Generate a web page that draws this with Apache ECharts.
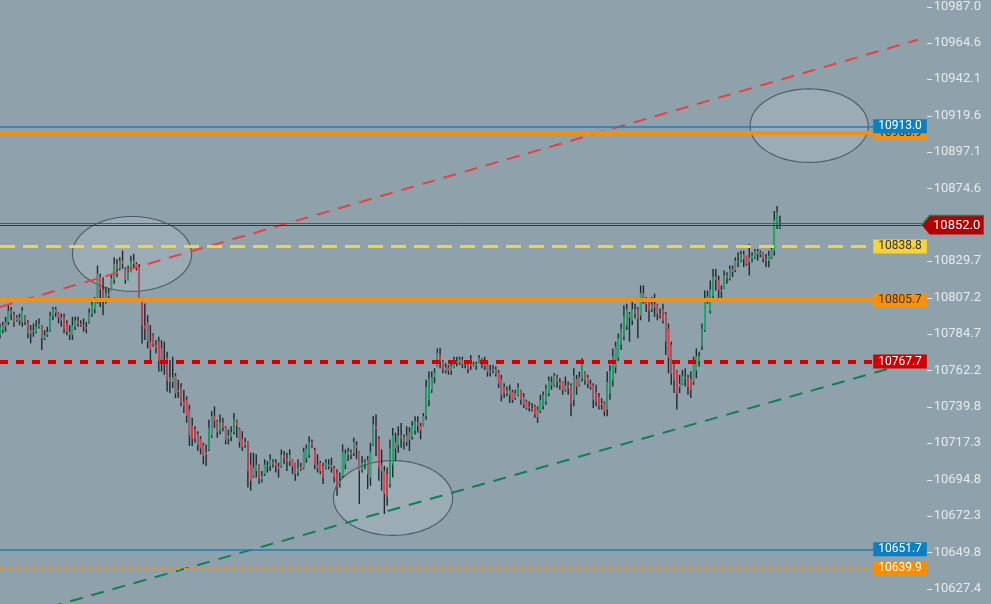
<!DOCTYPE html>
<html>
<head>
<meta charset="utf-8">
<script src="https://cdn.jsdelivr.net/npm/echarts@6/dist/echarts.min.js"></script>
<style>html,body{margin:0;padding:0;background:#8fa1aa;}#c{width:991px;height:604px;}</style>
</head>
<body>
<div id="c"></div>
<script>
// ---- DATA ----
// candles: [open, close, low, high]
const candles = [
[10784,10789,10782.0,10791.2],[10787,10790,10785.1,10792.2],[10792,10789,10786.1,10795.3],[10792,10799,10790.2,10802.5],
[10799,10797,10793.2,10801.4],[10797,10792,10789.2,10798.4],[10793,10795,10792.2,10796.3],[10795,10793,10790.2,10797.3],
[10792,10799,10789.2,10801.4],[10796,10792,10790.2,10796.3],[10792,10785,10782.0,10793.2],[10785,10787,10778.9,10790.2],
[10787,10786,10783.0,10791.2],[10786,10789,10785.1,10793.2],[10789,10791,10788.1,10794.3],[10790,10782,10774.8,10790.2],
[10782,10784,10781.0,10787.1],[10784,10786,10783.0,10789.2],[10787,10796,10786.1,10798.4],[10796,10800,10793.2,10801.4],
[10800,10798,10795.3,10801.4],[10798,10795,10791.2,10798.4],[10795,10793,10789.2,10797.3],[10795,10788,10785.1,10797.3],
[10791,10786,10784.0,10793.2],[10786,10784,10781.0,10790.2],[10784,10790,10781.0,10795.3],[10789,10793,10787.1,10795.3],
[10793,10791,10789.2,10795.3],[10791,10790,10789.2,10793.2],[10790,10789,10786.1,10794.3],[10789,10788,10785.1,10792.2],
[10792,10798,10791.2,10800.4],[10797,10803,10795.3,10805.5],[10800,10806,10797.3,10807.6],[10806,10822,10803.5,10827.0],
[10820,10812,10801.4,10821.9],[10812,10806,10796.3,10819.8],[10806,10810,10803.5,10813.7],[10810,10808,10804.5,10812.7],
[10812,10819,10811.7,10821.9],[10818,10828,10815.7,10832.1],[10828,10825,10819.8,10831.1],[10825,10830,10823.9,10832.1],
[10830,10828,10825.0,10836.2],[10825,10818,10815.7,10826.0],[10818,10823,10817.8,10827.0],[10823,10830,10822.9,10833.1],
[10830,10828,10825.0,10834.2],[10828,10826,10823.9,10829.0],[10826,10806,10804.5,10828.0],[10806,10790,10778.9,10806.5],
[10790,10788,10781.0,10803.5],[10792,10780,10775.8,10796.3],[10780,10775,10767.6,10790.2],[10784,10778,10776.9,10785.1],
[10778,10776,10772.8,10781.0],[10780,10768,10761.5,10783.0],[10776,10766,10761.5,10780.9],[10768,10766,10759.5,10779.9],
[10770,10756,10749.2,10773.8],[10758,10755,10748.2,10768.7],[10755,10758,10751.3,10770.7],[10759,10748,10745.1,10760.5],
[10749,10750,10745.1,10756.4],[10752,10742,10740.0,10754.3],[10743,10740,10735.9,10750.3],[10744,10734,10729.8,10746.2],
[10738,10722,10715.5,10741.0],[10728,10720,10715.5,10732.9],[10726,10720,10717.5,10727.7],[10723,10716,10712.4,10724.7],
[10720,10714,10710.4,10721.6],[10716,10709,10704.2,10717.5],[10712,10710,10703.2,10716.5],[10713,10727,10712.4,10731.8],
[10722,10734,10720.6,10737.0],[10734,10731,10726.7,10740.0],[10731,10724,10720.6,10731.8],[10725,10730,10722.6,10734.9],
[10730,10727,10724.7,10732.9],[10727,10719,10716.5,10727.7],[10720,10722,10716.5,10725.7],[10721,10724,10718.5,10727.7],
[10724,10732,10722.6,10735.9],[10731,10728,10720.6,10731.8],[10726,10718,10714.5,10726.7],[10720,10715,10712.4,10724.7],
[10716,10718,10714.5,10720.6],[10718,10700,10689.9,10718.5],[10704,10694,10687.9,10711.4],[10697,10702,10696.0,10711.4],
[10700,10704,10696.0,10710.4],[10704,10695,10692.0,10704.2],[10695,10697,10693.0,10700.1],[10698,10704,10697.0,10707.3],
[10703,10703.5,10699.1,10706.3],[10703,10707,10700.1,10710.4],[10706,10704,10702.2,10707.3],[10705,10703,10699.1,10707.3],
[10703,10701,10696.0,10705.2],[10703,10710,10702.2,10713.4],[10710,10708,10704.2,10712.4],[10708,10706,10700.1,10711.4],
[10706,10710,10703.2,10713.4],[10707,10703,10698.1,10707.3],[10705,10698,10694.0,10705.2],[10699,10702,10697.0,10707.3],
[10703,10701,10700.1,10705.2],[10702,10712,10701.2,10714.5],[10708,10714,10705.2,10716.5],[10710,10718,10708.3,10721.6],
[10718,10716,10714.5,10719.6],[10713,10704,10701.1,10714.5],[10704,10702,10699.1,10710.4],[10705,10700,10698.1,10706.3],
[10703,10696,10692.0,10705.2],[10702,10705,10701.1,10707.3],[10703,10704,10701.1,10707.3],[10704,10702,10699.1,10708.3],
[10702,10696,10693.0,10703.2],[10699,10690,10684.8,10701.1],[10692,10694,10689.9,10699.1],[10697,10712,10696.0,10716.5],
[10704,10711,10701.1,10713.4],[10710,10712,10706.3,10714.5],[10712,10710,10707.3,10713.4],[10711,10718,10709.3,10720.6],
[10716,10714,10707.3,10718.5],[10712,10700,10679.7,10712.4],[10701,10705,10699.1,10709.3],[10704,10706,10701.1,10707.3],
[10707,10698,10688.9,10709.3],[10696,10712,10690.9,10717.5],[10716,10729,10715.5,10733.9],[10728,10726,10709.3,10734.9],
[10720,10702,10694.0,10721.6],[10704,10700,10687.9,10713.4],[10700,10686,10673.5,10703.2],[10698,10684,10678.6,10702.2],
[10692,10714,10689.9,10719.6],[10704,10722,10696.0,10726.7],[10718,10714,10706.3,10723.7],[10716,10722,10711.4,10727.7],
[10722,10720,10714.5,10729.8],[10721,10718,10713.4,10722.6],[10718,10722,10715.5,10727.7],[10724,10719,10712.4,10727.1],
[10721,10728,10719.6,10730.8],[10725,10731,10722.6,10733.9],[10730,10728,10723.7,10733.9],[10728,10725,10719.6,10729.8],
[10728,10734,10727.7,10735.9],[10734,10752,10731.8,10756.4],[10744,10757,10740.0,10761.5],[10750,10758,10748.2,10761.5],
[10758,10761,10754.3,10763.6],[10765,10773,10764.6,10775.8],[10772,10768,10763.6,10776.2],[10768,10763,10760.5,10768.7],
[10762,10764,10760.5,10766.6],[10764,10762,10759.5,10765.6],[10762,10765,10759.5,10768.7],[10764,10769,10763.6,10770.7],
[10768,10767,10764.6,10770.7],[10767,10769,10765.6,10770.7],[10769,10766,10763.6,10770.7],[10766,10767,10763.6,10768.7],
[10766,10763,10760.5,10766.6],[10769,10765,10762.5,10771.7],[10766,10765,10764.6,10767.6],[10765,10766,10762.5,10767.6],
[10767,10770,10766.6,10771.7],[10769,10767,10763.6,10769.7],[10767,10765,10762.5,10770.7],[10766,10761,10758.4,10767.6],
[10761,10762,10758.4,10765.6],[10762,10763,10760.5,10765.6],[10763,10760,10758.4,10764.6],[10761,10754,10751.3,10762.5],
[10757,10747,10743.1,10759.5],[10752,10748,10745.1,10754.3],[10748,10750,10746.2,10752.3],[10750,10747,10742.1,10753.3],
[10749,10744,10742.1,10750.3],[10745,10748,10744.1,10750.3],[10747,10752,10746.2,10754.3],[10750,10744,10741.0,10750.3],
[10746,10741,10739.0,10748.2],[10743,10739,10738.0,10744.1],[10740,10739,10736.9,10743.1],[10739,10738,10736.9,10742.1],
[10740,10735,10732.9,10741.0],[10738,10733,10729.8,10740.0],[10737,10744,10735.9,10747.2],[10740,10747,10738.0,10749.2],
[10743,10751,10741.0,10753.3],[10748,10756,10746.2,10758.4],[10755,10753,10750.3,10758.4],[10753,10759,10752.3,10760.5],
[10758,10755,10751.3,10759.5],[10755,10753,10750.3,10757.4],[10755,10750,10747.2,10755.4],[10750,10753,10749.2,10758.4],
[10753,10751,10747.2,10755.4],[10753,10742,10733.9,10754.3],[10744,10759,10740.0,10763.6],[10757,10752,10747.2,10759.5],
[10753,10758,10752.3,10761.5],[10757,10766,10755.4,10769.7],[10761,10756,10753.3,10761.5],[10758,10754,10751.3,10759.5],
[10754,10752,10750.3,10756.4],[10753,10744,10739.0,10754.3],[10749,10743,10740.0,10753.3],[10746,10740,10738.0,10748.2],
[10741,10742,10738.0,10745.1],[10742,10737,10733.9,10743.1],[10738,10755,10733.9,10761.5],[10748,10762,10744.1,10765.6],
[10756,10771,10752.3,10775.8],[10764,10777,10760.5,10779.9],[10770,10782,10768.0,10785.0],[10778,10788,10774.8,10791.2],
[10783,10796,10780.9,10802.4],[10790,10800,10787.1,10803.4],[10797,10795,10779.9,10798.3],[10793,10800,10790.2,10804.5],
[10800,10797,10794.2,10803.4],[10800,10794,10782.0,10801.4],[10796,10810,10793.2,10814.7],[10810,10806,10803.4,10814.7],
[10805,10803,10798.3,10807.5],[10805,10799,10792.2,10806.5],[10800,10803,10798.3,10807.5],[10803,10801,10795.3,10809.6],
[10803,10797,10793.2,10803.4],[10797,10796,10794.2,10800.4],[10800,10793,10791.2,10803.4],[10797,10780,10771.7,10798.3],
[10788,10770,10760.5,10791.2],[10778,10760,10753.3,10779.9],[10766,10756,10748.2,10768.7],[10762,10748,10738.0,10762.5],
[10752,10754,10748.2,10759.5],[10754,10759,10753.3,10762.5],[10758,10757,10752.3,10763.6],[10758,10752,10747.2,10759.5],
[10757,10750,10745.1,10761.5],[10755,10766,10753.3,10770.7],[10762,10771,10757.4,10775.8],[10768,10771,10764.6,10773.8],
[10777,10788,10774.8,10791.2],[10787,10806,10786.1,10811.6],[10806,10808,10803.4,10811.6],[10799,10812,10797.3,10817.8],
[10808,10820,10806.5,10824.9],[10820,10818,10811.6,10824.9],[10818,10812,10806.5,10820.8],[10811,10812,10806.5,10814.7],
[10813,10821,10812.7,10823.9],[10821,10819,10815.7,10822.9],[10819,10825,10817.8,10827.0],[10825,10823,10819.8,10827.0],
[10824,10830,10822.9,10832.1],[10830,10829,10826.0,10835.2],[10830,10834,10829.0,10836.2],[10834,10831,10826.0,10836.2],
[10833,10828,10827.0,10833.1],[10829,10832,10820.8,10840.3],[10831,10833,10829.0,10835.2],[10832,10836,10831.1,10837.2],
[10836,10834,10830.0,10837.2],[10834,10835,10832.1,10836.2],[10835,10831,10829.0,10835.2],[10831,10830,10826.0,10834.1],
[10830,10833,10826.0,10836.2],[10832,10837,10831.1,10839.3],[10836,10855,10833.1,10860.7],[10852,10860,10849.5,10863.8],
[10850.5,10852,10849.5,10857.7]
];
const tickLabels = ['10987.0','10964.6','10942.1','10919.6','10897.1','10874.6','10852.2','10829.7','10807.2','10784.7','10762.2','10739.8','10717.3','10694.8','10672.3','10649.8','10627.4'];
const levelPrices = [10908.9, 10913.0, 10838.8, 10805.7, 10767.7, 10651.7, 10639.9];
const lastPrice = 10852.0;
const askPrice = 10853.2;
// trend lines: [barIndex, price]
const resistanceLine = [[0, 10801.4], [329.6, 10966.5]];
const supportLine = [[10, 10612.2], [320.6, 10764.0]];
// ellipses: [centerIndex, centerPrice, radiusBars, radiusPrice]
const ellipses = [[47.4, 10834.2, 21.4, 23.1], [290.5, 10913.4, 21.2, 22.7], [141.1, 10683.4, 21.4, 23.1]];

// ---- CHART ----
const chart = echarts.init(document.getElementById('c'), null, {renderer: 'canvas'});
const YMIN = 10617.92, YMAX = 10988.61;
const XMAX = 332.7, LEVEL_END = 313.5, PRICE_END = 330.9;
const tickVals = tickLabels.map(Number);

const levelStyles = [
  {color: '#f5900f', width: 4, type: 'solid', bg: '#f5900f', fg: '#2b2b2b'},
  {color: '#1a7fc6', width: 1.5, type: 'solid', bg: '#0b7fc4', fg: '#ffffff'},
  {color: '#f6d33c', width: 3, type: [15, 8], bg: '#f8d23a', fg: '#333333'},
  {color: '#f5900f', width: 4, type: 'solid', bg: '#f8900c', fg: '#333333'},
  {color: '#d40000', width: 4, type: [8, 8], bg: '#d20000', fg: '#ffffff'},
  {color: '#1a7fc6', width: 1.5, type: 'solid', bg: '#0b7fc4', fg: '#ffffff'},
  {color: '#f5900f', width: 2, type: [4, 4], bg: '#fb8c00', fg: '#ffffff'}
];

const series = [];

// ellipses (under candles)
series.push({
  type: 'custom', z: 1, silent: true, clip: true,
  data: ellipses,
  encode: {x: 0, y: 1},
  renderItem: function (params, api) {
    const c = api.coord([api.value(0), api.value(1)]);
    const s = api.size([api.value(2), api.value(3)]);
    const pts = [];
    for (let k = 0; k < 96; k++) {
      const a = k / 96 * Math.PI * 2;
      pts.push([c[0] + s[0] * Math.cos(a), c[1] + s[1] * Math.sin(a)]);
    }
    return {type: 'polygon', shape: {points: pts},
      style: {fill: 'rgba(255,255,255,0.12)', stroke: '#4c5962', lineWidth: 1.1}};
  }
});

// candles
series.push({
  type: 'custom', z: 2, silent: true, clip: true,
  data: candles.map((d, i) => [i, d[0], d[1], d[2], d[3]]),
  encode: {x: 0, y: [1, 2, 3, 4]},
  renderItem: function (params, api) {
    const i = api.value(0);
    const o = api.coord([i, api.value(1)]);
    const c = api.coord([i, api.value(2)]);
    const l = api.coord([i, api.value(3)]);
    const h = api.coord([i, api.value(4)]);
    const w = 1.4, x = o[0] - w / 2;
    const up = api.value(2) >= api.value(1);
    const top = Math.min(o[1], c[1]);
    const bh = Math.max(1, Math.abs(o[1] - c[1]));
    return {type: 'group', children: [
      {type: 'rect', shape: {x: x, y: h[1], width: w, height: l[1] - h[1]}, style: {fill: '#1e2931'}},
      {type: 'rect', shape: {x: x, y: top, width: w, height: bh}, style: {fill: up ? '#1fae6e' : '#e8404c'}}
    ]};
  }
});

// trend lines
series.push({type: 'line', z: 3, silent: true, symbol: 'none', data: resistanceLine,
  lineStyle: {color: '#e8413f', width: 2, type: [13, 9]}, animation: false});
series.push({type: 'line', z: 3, silent: true, symbol: 'none', data: supportLine,
  lineStyle: {color: '#0f7f55', width: 2, type: [13, 9]}, animation: false});

// horizontal levels
levelPrices.forEach(function (p, k) {
  const st = levelStyles[k];
  series.push({
    type: 'line', z: 4 + k, data: [], silent: true, animation: false,
    markLine: {
      symbol: 'none', silent: true, animation: false,
      lineStyle: {color: st.color, width: st.width, type: st.type, opacity: 1},
      label: {show: true, position: 'end', distance: 0, formatter: p.toFixed(1),
        backgroundColor: st.bg, color: st.fg, padding: [1, 5, 1, 5], lineHeight: 12,
        fontFamily: 'Roboto', fontSize: 12},
      emphasis: {disabled: true},
      data: [[{coord: [0, p]}, {coord: [LEVEL_END, p]}]]
    }
  });
});

// current price lines (ask / last)
series.push({
  type: 'line', z: 12, data: [], silent: true, animation: false,
  markLine: {symbol: 'none', silent: true, animation: false, label: {show: false},
    emphasis: {disabled: true},
    data: [
      [{coord: [0, askPrice], lineStyle: {color: '#137d52', width: 1, type: 'solid'}}, {coord: [PRICE_END, askPrice]}],
      [{coord: [0, lastPrice], lineStyle: {color: '#9c0a0a', width: 1, type: 'solid'}}, {coord: [PRICE_END, lastPrice]}]
    ]}
});

// y-axis tick marks (drawn just outside the grid's right edge)
series.push({
  type: 'custom', z: 15, silent: true, clip: false,
  data: tickVals.map(v => [XMAX, v]),
  encode: {x: 0, y: 1},
  renderItem: function (params, api) {
    const p = api.coord([api.value(0), api.value(1)]);
    const y = Math.round(p[1]) + 0.5;
    return {type: 'line', shape: {x1: p[0] + 0.5, y1: y, x2: p[0] + 5.5, y2: y},
      style: {stroke: '#e6eaec', lineWidth: 1}};
  }
});

// last price tag
series.push({
  type: 'custom', z: 20, silent: true, clip: false,
  data: [[PRICE_END, lastPrice]],
  encode: {x: 0, y: 1},
  renderItem: function (params, api) {
    const p = api.coord([api.value(0), api.value(1)]);
    const x0 = p[0], y = p[1];
    const hh = 9.5, tip = 8, w = 62;
    return {type: 'group', children: [
      {type: 'polygon', shape: {points: [[x0, y], [x0 + tip, y - hh], [x0 + w, y - hh], [x0 + w, y + hh], [x0 + tip, y + hh]]},
        style: {fill: '#b40000'}},
      {type: 'polyline', shape: {points: [[x0, y], [x0 + tip, y - hh], [x0 + w, y - hh]]},
        style: {stroke: '#128356', lineWidth: 1.5, fill: null}},
      {type: 'text', style: {text: lastPrice.toFixed(1), x: x0 + tip + (w - tip) / 2, y: y + 0.5,
        textAlign: 'center', textVerticalAlign: 'middle', fill: '#ffffff', font: '13px Roboto'}}
    ]};
  }
});

chart.setOption({
  backgroundColor: '#8fa1aa',
  animation: false,
  grid: {left: 0, right: 64.3, top: 0, bottom: 0},
  xAxis: {type: 'value', min: 0, max: XMAX, show: false},
  yAxis: {
    type: 'value', position: 'right', min: YMIN, max: YMAX, scale: true,
    axisLine: {show: false},
    splitLine: {show: false},
    axisTick: {show: false},
    axisLabel: {show: true, customValues: tickVals, margin: 7, color: '#e6eaec',
      fontFamily: 'Roboto', fontSize: 13,
      formatter: function (v) {
        let best = 0, d = Infinity;
        tickVals.forEach(function (t, k) { if (Math.abs(t - v) < d) { d = Math.abs(t - v); best = k; } });
        return tickLabels[best];
      }}
  },
  series: series
});
</script>
</body>
</html>
